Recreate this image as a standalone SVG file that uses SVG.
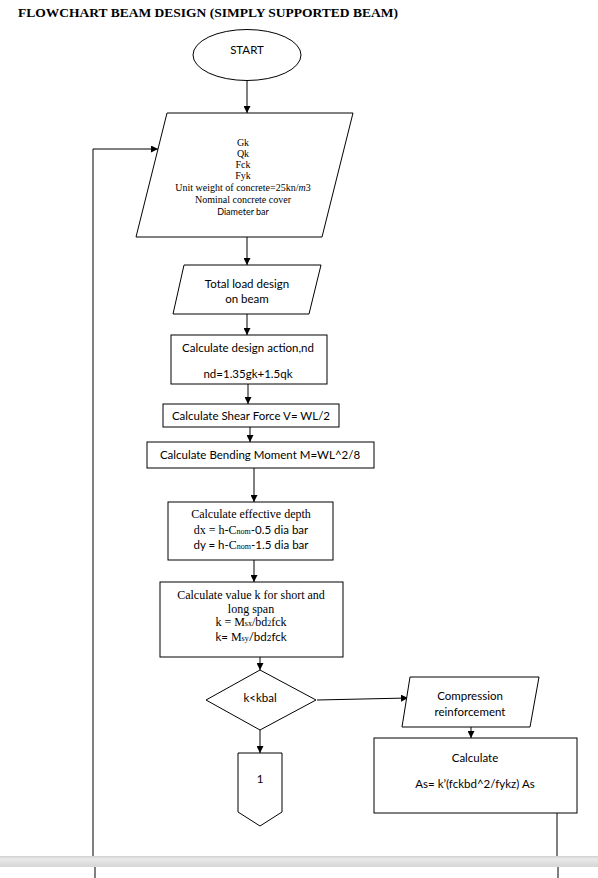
<svg xmlns="http://www.w3.org/2000/svg" width="598" height="878" viewBox="0 0 598 878">
<defs>
<marker id="ah" markerWidth="7" markerHeight="7" refX="7" refY="3.5" orient="auto" markerUnits="userSpaceOnUse">
<path d="M0,0 L7,3.5 L0,7 z" fill="#000"/>
</marker>
<linearGradient id="band" x1="0" y1="0" x2="0" y2="1">
<stop offset="0" stop-color="#cfcfcf"/>
<stop offset="0.25" stop-color="#e9e9e9"/>
<stop offset="1" stop-color="#d6d6d6"/>
</linearGradient>
</defs>
<style>
.shape{fill:#fff;stroke:#000;stroke-width:1}
.ln{fill:none;stroke:#000;stroke-width:1}
.arr{fill:none;stroke:#000;stroke-width:1;marker-end:url(#ah)}
.sans{font-family:Lato,"Open Sans","Liberation Sans",sans-serif;font-size:11.5px;fill:#000;text-anchor:middle}
.serif{font-family:"Liberation Serif","Times New Roman",serif;fill:#000;text-anchor:middle}
.sm{font-size:8px}
</style>
<rect width="598" height="878" fill="#fff"/>
<text x="18" y="17" style="font-family:'Liberation Serif','Times New Roman',serif;font-weight:bold;font-size:13.5px" fill="#000">FLOWCHART BEAM DESIGN (SIMPLY SUPPORTED BEAM)</text>

<g id="connectors">
<line class="arr" x1="247" y1="80" x2="247" y2="113"/>
<line class="arr" x1="247" y1="237" x2="247" y2="265"/>
<line class="arr" x1="247" y1="314" x2="247" y2="335"/>
<line class="arr" x1="248" y1="384" x2="248" y2="404"/>
<line class="arr" x1="250" y1="427" x2="250" y2="442"/>
<line class="arr" x1="254" y1="468" x2="254" y2="502"/>
<line class="arr" x1="254" y1="560" x2="254" y2="582"/>
<line class="arr" x1="260" y1="657" x2="260" y2="670"/>
<line class="arr" x1="317" y1="700" x2="408" y2="698"/>
<line class="arr" x1="471" y1="727" x2="471" y2="738"/>
<line class="arr" x1="260" y1="730" x2="260" y2="753"/>
<line class="ln" x1="557" y1="813" x2="557" y2="856"/>
<line class="ln" x1="558" y1="867" x2="558" y2="878"/>
<polyline class="arr" points="93,856 93,149 158,149"/>
<line class="ln" x1="95" y1="867" x2="95" y2="878"/>
</g>

<g id="start">
<ellipse class="shape" cx="247" cy="55" rx="54" ry="25.5"/>
<text class="sans" x="247" y="54">START</text>
</g>

<g id="inputs">
<polygon class="shape" points="167,113 353,113 322,237 136,237"/>
<text class="serif" font-size="10" x="243" y="145.5">Gk</text>
<text class="serif" font-size="10" x="243" y="156.5">Qk</text>
<text class="serif" font-size="10" x="243" y="167.5">Fck</text>
<text class="serif" font-size="10" x="243" y="178.5">Fyk</text>
<text class="serif" font-size="10" x="243" y="190.5">Unit weight of concrete=25kn/<tspan font-style="italic">m</tspan>3</text>
<text class="serif" font-size="10" x="243" y="203">Nominal concrete cover</text>
<text class="sans" style="font-size:9px" x="243" y="214.5">Diameter bar</text>
</g>

<g id="total-load">
<polygon class="shape" points="184,265 321,265 309,314 173,314"/>
<text class="sans" x="247" y="288">Total load design</text>
<text class="sans" x="247" y="303">on beam</text>
</g>

<g id="design-action">
<rect class="shape" x="171" y="335" width="156" height="49"/>
<text class="sans" x="248" y="352">Calculate design action,nd</text>
<text class="sans" x="248" y="378">nd=1.35gk+1.5qk</text>
</g>

<g id="shear">
<rect class="shape" x="163" y="404" width="176" height="23"/>
<text class="sans" x="251" y="420">Calculate Shear Force V= WL/2</text>
</g>

<g id="bending">
<rect class="shape" x="147" y="442" width="227" height="26"/>
<text class="sans" x="260" y="459">Calculate Bending Moment M=WL^2/8</text>
</g>

<g id="effective-depth">
<rect class="shape" x="168" y="502" width="165" height="58"/>
<text class="serif" font-size="12" x="251" y="518">Calculate effective depth</text>
<text class="serif" font-size="12" x="251" y="533.5">dx = h-C<tspan class="sm">nom</tspan><tspan style="font-family:Lato,'Open Sans','Liberation Sans',sans-serif;font-size:11.5px">-0.5 dia bar</tspan></text>
<text class="sans" x="251" y="549">dy = h-<tspan style="font-family:'Liberation Serif',serif;font-size:12px">C<tspan font-size="8">nom</tspan></tspan>-1.5 dia bar</text>
</g>

<g id="value-k">
<rect class="shape" x="160" y="582" width="183" height="75"/>
<text class="serif" font-size="12" x="251" y="599">Calculate value k for short and</text>
<text class="serif" font-size="12" x="251" y="613">long span</text>
<text class="serif" font-size="12" x="251" y="626">k = M<tspan class="sm">sx</tspan>/bd<tspan class="sm">2</tspan>fck</text>
<text class="sans" x="251" y="641">k= <tspan style="font-family:'Liberation Serif',serif;font-size:12px">M<tspan font-size="8">sy</tspan></tspan>/bd<tspan font-size="8">2</tspan>fck</text>
</g>

<g id="decision">
<polygon class="shape" points="260,670 316,700 260,730 206,700"/>
<text class="sans" x="260" y="702">k&lt;kbal</text>
</g>

<g id="compression">
<polygon class="shape" points="410,677 539,677 530,727 402,727"/>
<text class="sans" x="470" y="700">Compression</text>
<text class="sans" x="470" y="716">reinforcement</text>
</g>

<g id="calculate-as">
<rect class="shape" x="374" y="738" width="203" height="75"/>
<text class="sans" x="475" y="762">Calculate</text>
<text class="sans" x="475" y="788">As= k’(fckbd^2/fykz) As</text>
</g>

<g id="connector-1">
<polygon class="shape" points="238,753 282,753 282,812 260,826 238,812"/>
<text class="sans" x="260" y="783">1</text>
</g>

<rect x="0" y="856" width="598" height="11" fill="url(#band)"/>
</svg>
